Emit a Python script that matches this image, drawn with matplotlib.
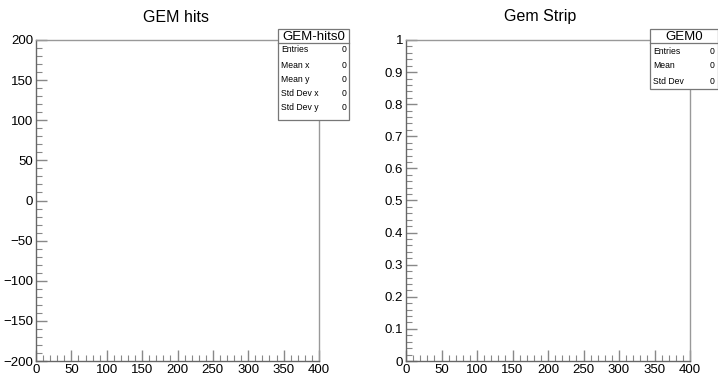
import numpy as np
import matplotlib
matplotlib.use('Agg')
import matplotlib.pyplot as plt
from matplotlib.patches import Rectangle
from matplotlib.ticker import MultipleLocator, FuncFormatter

plt.rcParams['font.family'] = ['Liberation Sans', 'DejaVu Sans']

W, H = 718, 376

# empty histograms: axis ranges and stats
hits_title = "GEM hits"
hits_name = "GEM-hits0"
hits_xrange = [0, 400]
hits_yrange = [-200, 200]
hits_stat_labels = ["Entries", "Mean x", "Mean y", "Std Dev x", "Std Dev y"]
hits_stat_values = [0, 0, 0, 0, 0]

strip_title = "Gem Strip"
strip_name = "GEM0"
strip_xrange = [0, 400]
strip_yrange = [0, 1]
strip_stat_labels = ["Entries", "Mean", "Std Dev"]
strip_stat_values = [0, 0, 0]


def fx(px):
    return px / W


def fy(py):
    return 1 - py / H


# ROOT style labels: 0, 0.1, ... 1 (no trailing zeros)
root_fmt = FuncFormatter(lambda v, p: ('%g' % round(v, 6)).replace('-', '\u2212'))


def panel(fig, left, right, top, bottom, xr, yr, ymajor, title, tx):
    ax = fig.add_axes([fx(left), fy(bottom), fx(right - left), fy(top) - fy(bottom)])
    ax.set_xlim(*xr)
    ax.set_ylim(*yr)
    ax.xaxis.set_major_locator(MultipleLocator(50))
    ax.xaxis.set_minor_locator(MultipleLocator(10))
    ax.yaxis.set_major_locator(MultipleLocator(ymajor))
    ax.yaxis.set_minor_locator(MultipleLocator(ymajor / 5))
    ax.xaxis.set_major_formatter(root_fmt)
    ax.yaxis.set_major_formatter(root_fmt)
    ax.tick_params(which='both', direction='in', color='#888888', labelsize=9.5,
                   labelcolor='black', top=False, right=False)
    ax.tick_params(which='major', length=8, width=1.0, pad=2)
    ax.tick_params(which='minor', length=4, width=0.8)
    for s in ['left', 'bottom']:
        ax.spines[s].set_color('#666666')
    for s in ['top', 'right']:
        ax.spines[s].set_color('#999999')
    for s in ax.spines.values():
        s.set_linewidth(1.0)
    fig.text(fx(tx), fy(17), title, ha='center', va='center', fontsize=11.5)
    return ax


def statbox(fig, left, right, top, sep, rows_y, bottom, name, labels, values):
    rect = Rectangle((fx(left), fy(bottom)), fx(right - left), fy(top) - fy(bottom),
                     transform=fig.transFigure, facecolor='white', edgecolor='#777777',
                     linewidth=0.9, zorder=5)
    fig.patches.append(rect)
    fig.add_artist(plt.Line2D([fx(left), fx(right)], [fy(sep), fy(sep)],
                              transform=fig.transFigure, color='#777777', lw=0.9, zorder=6))
    fig.text(fx((left + right) / 2), fy((top + sep) / 2 + 0.5), name,
             ha='center', va='center', fontsize=9.5, zorder=7)
    for lab, val, y in zip(labels, values, rows_y):
        fig.text(fx(left + 3), fy(y), lab, ha='left', va='center', fontsize=6.2, zorder=7)
        fig.text(fx(right - 3), fy(y), str(val), ha='right', va='center', fontsize=6.2, zorder=7)


fig = plt.figure(figsize=(W / 100, H / 100), dpi=100)

panel(fig, 36, 319, 40, 361, hits_xrange, hits_yrange, 50, hits_title, 176)
panel(fig, 406, 690, 40, 361, strip_xrange, strip_yrange, 0.1, strip_title, 540)

statbox(fig, 278, 349, 29, 43, [50, 65, 80, 94, 108], 120,
        hits_name, hits_stat_labels, hits_stat_values)
statbox(fig, 650, 718, 29, 43, [51, 66, 81], 89,
        strip_name, strip_stat_labels, strip_stat_values)

fig.savefig("out.png", dpi=100)
